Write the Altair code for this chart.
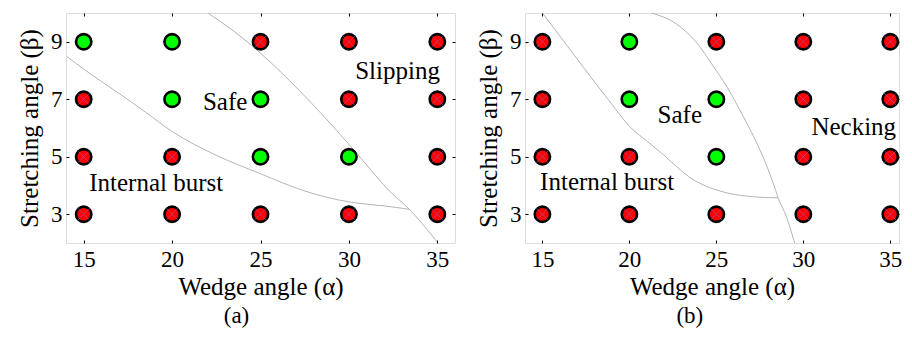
import altair as alt
import pandas as pd

# ---------------- data ----------------
alpha_vals = [15, 20, 25, 30, 35]
beta_vals = [3, 5, 7, 9]

# rows: beta = 3, 5, 7, 9 ; columns: alpha = 15..35
status_a = [
    ["Fail", "Fail", "Fail", "Fail", "Fail"],
    ["Fail", "Fail", "Safe", "Safe", "Fail"],
    ["Fail", "Safe", "Safe", "Fail", "Fail"],
    ["Safe", "Safe", "Fail", "Fail", "Fail"],
]
status_b = [
    ["Fail", "Fail", "Fail", "Fail", "Fail"],
    ["Fail", "Fail", "Safe", "Fail", "Fail"],
    ["Fail", "Safe", "Safe", "Fail", "Fail"],
    ["Fail", "Safe", "Fail", "Fail", "Fail"],
]

# boundary curves (a)
burst_a_x = [14.04, 15.0, 16.0, 17.03, 18.5, 20.0, 22.5, 25.0, 27.5, 30.0, 31.0, 32.0, 33.42]
burst_a_y = [8.49, 8.05, 7.62, 7.19, 6.55, 5.88, 5.05, 4.41, 3.81, 3.43, 3.35, 3.29, 3.17]
slip_a_x = [22.02, 23.44, 25.04, 27.2, 29.99, 30.97, 32.29, 33.42, 34.98]
slip_a_y = [10.0, 9.39, 8.58, 7.3, 5.44, 4.74, 3.81, 3.17, 2.04]

# boundary curves (b)
burst_b_x = [15.04, 16.0, 17.0, 18.0, 19.0, 20.02, 21.0, 21.74, 23.66, 25.57, 27.1, 28.55]
burst_b_y = [9.97, 9.2, 8.4, 7.6, 6.82, 6.05, 5.55, 5.18, 4.21, 3.75, 3.61, 3.57]
neck_b_x = [21.26, 22.7, 23.85, 24.81, 25.57, 26.53, 27.49, 28.26, 28.55, 29.02, 29.5]
neck_b_y = [10.0, 9.62, 8.98, 8.16, 7.47, 6.42, 5.26, 4.1, 3.57, 2.93, 2.0]

# region labels
labels_a = ["Slipping", "Safe", "Internal burst"]
labels_a_x = [32.75, 23.0, 19.1]
labels_a_y = [8.0, 6.9, 4.1]
labels_b = ["Necking", "Safe", "Internal burst"]
labels_b_x = [32.9, 22.9, 18.72]
labels_b_y = [6.05, 6.45, 4.12]

x_domain_a = [14, 36]
x_domain_b = [14, 35.5]   # panel (b) is cropped at the right edge in the figure
y_domain = [2, 10]

FONT = "Liberation Serif"
H = 230


def grid_df(status):
    rows = []
    for i, b in enumerate(beta_vals):
        for j, a in enumerate(alpha_vals):
            rows.append({"alpha": a, "beta": b, "status": status[i][j]})
    return pd.DataFrame(rows)


def curve_df(curves):
    rows = []
    for name, xs, ys in curves:
        for k, (x, y) in enumerate(zip(xs, ys)):
            rows.append({"curve": name, "idx": k, "alpha": x, "beta": y})
    return pd.DataFrame(rows)


def panel(status, curves, labels, lx, ly, tag, width, xdom):
    xs = alt.Scale(domain=xdom, nice=False, zero=False)
    ys = alt.Scale(domain=y_domain, nice=False, zero=False)
    tick_common = dict(domain=False, ticks=True, tickSize=3, tickColor="black",
                       tickWidth=1, offset=-3, grid=False)
    lab = dict(labelFont=FONT, labelFontSize=23, labelColor="black",
               titleFont=FONT, titleFontSize=25, titleFontWeight="normal",
               titleColor="black")
    x_bottom = alt.Axis(orient="bottom", values=alpha_vals, labelPadding=5,
                        title="Wedge angle (α)", titlePadding=3, **tick_common, **lab)
    y_left = alt.Axis(orient="left", values=beta_vals, labelPadding=4,
                      title="Stretching angle (β)", titlePadding=8, **tick_common, **lab)
    x_top = alt.Axis(orient="top", values=alpha_vals, labels=False, title=None,
                     **tick_common)
    y_right = alt.Axis(orient="right", values=beta_vals, labels=False, title=None,
                       **tick_common)

    gdf = grid_df(status)
    base_pts = alt.Chart(gdf)
    pts = base_pts.mark_point(filled=True, size=235, stroke="black", strokeWidth=2.6,
                              opacity=1).encode(
        x=alt.X("alpha:Q", scale=xs, axis=x_bottom),
        y=alt.Y("beta:Q", scale=ys, axis=y_left),
        fill=alt.Fill("status:N", scale=alt.Scale(domain=["Safe", "Fail"],
                                                   range=["#00ff00", "#ff0000"]),
                      legend=None),
    )
    crosses = base_pts.transform_filter(alt.datum.status == "Fail").mark_point(
        shape="M-1,-1L1,1M-1,1L1,-1", size=170, stroke="#8080ff", strokeWidth=0.7,
        opacity=0.6, filled=False).encode(
        x=alt.X("alpha:Q", scale=xs, axis=None),
        y=alt.Y("beta:Q", scale=ys, axis=None),
    )
    lines = alt.Chart(curve_df(curves)).mark_line(
        color="#b4b4b4", strokeWidth=1, clip=True, interpolate="monotone").encode(
        x=alt.X("alpha:Q", scale=xs, axis=x_top),
        y=alt.Y("beta:Q", scale=ys, axis=y_right),
        detail="curve:N",
        order="idx:Q",
    )
    tdf = pd.DataFrame({"label": labels, "alpha": lx, "beta": ly})
    texts = alt.Chart(tdf).mark_text(font=FONT, fontSize=25, color="black",
                                     align="center", baseline="middle").encode(
        x=alt.X("alpha:Q", scale=xs, axis=None),
        y=alt.Y("beta:Q", scale=ys, axis=None),
        text="label:N",
    )
    return alt.layer(lines, pts, crosses, texts).resolve_axis(
        x="independent", y="independent").properties(
        width=width, height=H,
        title=alt.TitleParams(tag, orient="bottom", frame="bounds", anchor="middle",
                              font=FONT, fontSize=23, fontWeight="normal",
                              color="black", offset=6),
    )


pa = panel(status_a, [("burst", burst_a_x, burst_a_y), ("slip", slip_a_x, slip_a_y)],
           labels_a, labels_a_x, labels_a_y, "(a)", 389, x_domain_a)
pb = panel(status_b, [("burst", burst_b_x, burst_b_y), ("neck", neck_b_x, neck_b_y)],
           labels_b, labels_b_x, labels_b_y, "(b)", 374, x_domain_b)

chart = alt.hconcat(pa, pb, spacing=20).properties(
    padding={"left": 9, "top": 4, "right": 0, "bottom": 0}
).configure_view(stroke="black", strokeWidth=1.2).configure(background="white")

chart.save("out.html", embed_options={"renderer": "svg", "actions": False})
